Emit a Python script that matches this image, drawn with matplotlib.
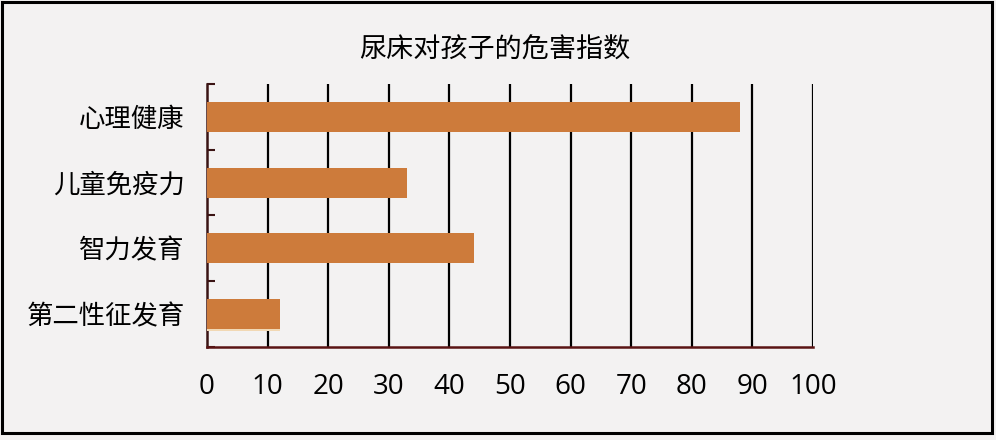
import matplotlib
matplotlib.use("Agg")
import matplotlib.pyplot as plt
from matplotlib.patches import Rectangle
import numpy as np

plt.rcParams['font.family'] = ['Noto Sans CJK SC', 'DejaVu Sans']

categories = ['心理健康', '儿童免疫力', '智力发育', '第二性征发育']
values = [88, 33, 44, 12]
xticks = [0, 10, 20, 30, 40, 50, 60, 70, 80, 90, 100]
title = '尿床对孩子的危害指数'

bg = '#F3F2F2'
bar_color = '#CD7B3B'

fig = plt.figure(figsize=(9.96, 4.4), dpi=100, facecolor=bg)
ax = fig.add_axes([207/996, 1-347/440, (813-207)/996, (347-84)/440])
ax.set_facecolor(bg)

n = len(categories)
ypos = np.arange(n)[::-1]
# faint shadow under the last bar, as in the reference
ax.barh(ypos[-1] - 0.05, values[-1], height=0.42, color='#F1D8B4', zorder=2.9)
ax.barh(ypos, values, height=0.46, color=bar_color, zorder=3)

ax.set_xlim(0, 100)
ax.set_ylim(-0.5, n - 0.5)
ax.set_xticks(xticks)
ax.set_xticklabels([str(t) for t in xticks], fontsize=20,
                   family=['Open Sans', 'DejaVu Sans'])
ax.set_yticks(ypos)
ax.set_yticklabels(categories, fontsize=19)
ax.tick_params(axis='y', length=0, pad=16)
ax.tick_params(axis='x', length=0, pad=19)
ax.set_yticks(np.arange(-0.5, n, 1.0), minor=True)
ax.tick_params(axis='y', which='minor', direction='in', length=6, width=1.5,
               color='#3a1414')

for t in xticks[1:]:
    ax.axvline(t, color='black', lw=1.6, zorder=2)

for s in ['top', 'right']:
    ax.spines[s].set_visible(False)
ax.spines['left'].set_color('#3a1414')
ax.spines['left'].set_linewidth(1.8)
ax.spines['bottom'].set_color('#5a1414')
ax.spines['bottom'].set_linewidth(1.8)

fig.text(495/996, 1-50/440, title, ha='center', va='center', fontsize=19.5)

fig.patches.append(Rectangle((2/996, 1-433/440), 990/996, 431/440,
                             transform=fig.transFigure, fill=False,
                             edgecolor='black', lw=2.2))

fig.savefig('out.png', dpi=100, facecolor=bg)
